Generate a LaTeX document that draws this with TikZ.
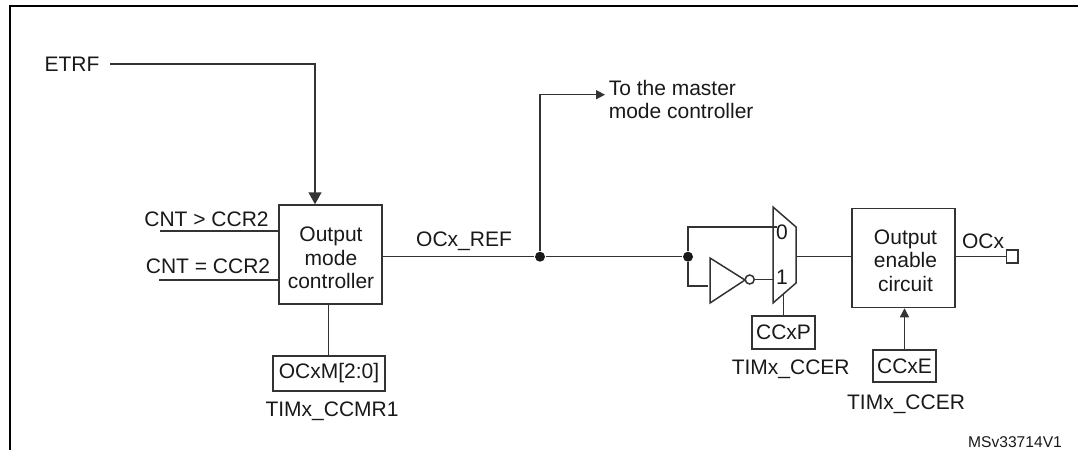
\documentclass[tikz,border=0pt]{standalone}
\usepackage{fontspec}
\setmainfont{Liberation Sans}
\usetikzlibrary{arrows.meta,positioning,calc}
\colorlet{wire}{black!80}
\colorlet{ink}{black!90}
\begin{document}
\begin{tikzpicture}[x=1pt,y=-1pt,>={Triangle[length=12pt,width=13pt]},line width=1.5pt,
   small/.style={>={Triangle[length=9pt,width=9pt]}},
   wireline/.style={draw=wire,line width=1.5pt},
   lbl/.style={inner sep=0pt,text=ink,font=\fontsize{21}{23.5}\selectfont,align=center},
   block/.style={draw=wire,minimum width=103pt,minimum height=99pt,inner sep=0pt},
   regbox/.style={draw=wire,inner sep=0pt,minimum height=35pt},
   junction/.style={circle,fill=black!90,inner sep=0pt,minimum size=10pt}]
  \useasboundingbox (0,0) rectangle (1078,450);
  \draw[black,line width=2.2pt] (10,450) -- (10,6) -- (1078,6);

  \node[lbl] (etrf) at (72,64) {ETRF};
  \coordinate (etrfend) at (110,64);
  \node[block] (omc) at (330.5,254.5) {};
  \node[lbl] (omctext) at (331,258) {Output\\mode\\controller};
  \draw[wireline,->] (etrfend) -- (315,64) -- (omc.north -| 315,0);

  \node[lbl] (gt) at (206.5,219) {CNT > CCR2};
  \node[lbl] (eq) at (208,266) {CNT = CCR2};
  \coordinate (gtin) at (160,231);
  \coordinate (eqin) at (159,280);
  \draw[wireline] (gtin) -- (omc.west |- gtin);
  \draw[wireline] (eqin) -- (omc.west |- eqin);

  \node[regbox,minimum width=112pt] (ocxm) at (329,373.5) {};
  \node[lbl] at (ocxm) (ocxmtext) {OCxM[2:0]};
  \node[lbl] (ccmr) at (332,411) {TIMx\_CCMR1};
  \draw[wireline] (omc.south -| 328.5,0) -- (ocxm.north -| 328.5,0);

  \node[lbl] (ref) at (464,241) {OCx\_REF};
  \node[junction] (j1) at (540,256.7) {};
  \node[junction] (j2) at (688,256.7) {};
  \draw[wireline] (omc.east |- j1) -- (j1);
  \draw[wireline] (j1) -- (j2);
  \coordinate (mastertip) at (605,94.7);
  \draw[wireline,small,->] (j1) -- (j1 |- mastertip) -- (mastertip);
  \node[lbl,anchor=west,align=left] (master) at (608,99.5) {To the master\\mode controller};

  \coordinate (mux0) at (773,207);
  \coordinate (mux1) at (796,227);
  \coordinate (mux2) at (796,283);
  \coordinate (mux3) at (773,303);
  \draw[wireline] (mux0) -- (mux1) -- (mux2) -- (mux3) -- cycle;
  \node[lbl] (zero) at (782,232) {0};
  \node[lbl] (one) at (782,277) {1};
  \coordinate (muxa) at (777,227);
  \draw[wireline] (j2) -- (j2 |- muxa) -- (muxa);

  \coordinate (inva) at (710,258);
  \coordinate (invb) at (710,303);
  \coordinate (invc) at (745,280);
  \draw[wireline] (inva) -- (invb) -- (invc) -- cycle;
  \node[circle,draw=wire,fill=white,inner sep=0pt,minimum size=9pt] (bubble) at (749.7,279.5) {};
  \coordinate (invin) at (708,286);
  \draw[wireline] (j2) -- (j2 |- invin) -- (invin);
  \draw[wireline] (bubble) -- (bubble -| mux0);

  \node[block] (oec) at (903.5,258) {};
  \node[lbl] (oectext) at (905.5,260.5) {Output\\enable\\circuit};
  \draw[wireline] (mux1 |- j2) -- (oec.west |- j2);

  \node[lbl] (ocx) at (983,241.5) {OCx};
  \node[draw=wire,inner sep=0pt,minimum width=11.5pt,minimum height=13pt] (pin) at (1012.3,256.7) {};
  \draw[wireline] (oec.east |- pin) -- (pin);

  \node[regbox,minimum width=63pt,minimum height=33pt] (ccxp) at (783.5,332.5) {};
  \node[lbl] (ccxptext) at (ccxp) {CCxP};
  \node[lbl] (ccerp) at (790.7,369) {TIMx\_CCER};
  \draw[wireline] (ccxp.north) -- (783.5,294);

  \node[regbox,minimum width=63pt,minimum height=32pt] (ccxe) at (904.5,366) {};
  \node[lbl] (ccxetext) at (ccxe) {CCxE};
  \node[lbl] (ccere) at (906,404) {TIMx\_CCER};
  \draw[wireline,small,->] (ccxe.north) -- (ccxe.north |- oec.south);

  \node[lbl,font=\fontsize{15.6}{18}\selectfont] (version) at (1015,441.7) {MSv33714V1};
\end{tikzpicture}
\end{document}
